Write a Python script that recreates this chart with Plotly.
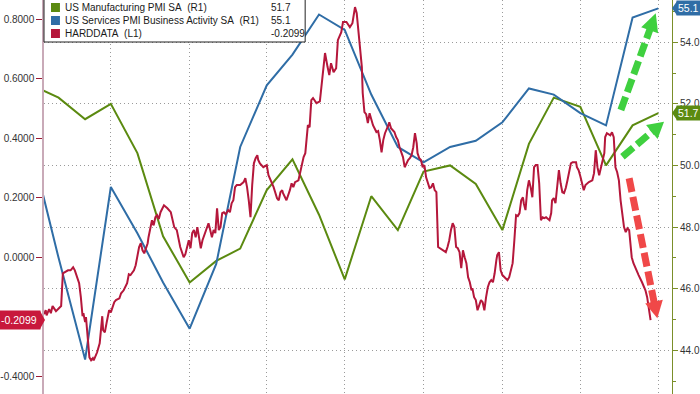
import math
import pandas as pd
import plotly.graph_objects as go

# ---------------- data ----------------
pmi_dates = ["2022-06-30", "2022-07-31", "2022-08-31", "2022-09-30", "2022-10-31", "2022-11-30",
             "2022-12-31", "2023-01-31", "2023-02-28", "2023-03-31", "2023-04-30", "2023-05-31",
             "2023-06-30", "2023-07-31", "2023-08-31", "2023-09-30", "2023-10-31", "2023-11-30",
             "2023-12-31", "2024-01-31", "2024-02-29", "2024-03-31", "2024-04-30", "2024-05-31",
             "2024-06-30"]
mfg_pmi = [52.6, 52.2, 51.5, 52.0, 50.4, 47.7, 46.2, 46.9, 47.3, 49.2, 50.2, 48.4, 46.3,
           49.0, 47.9, 49.8, 50.0, 49.4, 47.9, 50.7, 52.2, 51.9, 50.0, 51.3, 51.7]
svc_pmi = [50.5, 47.0, 43.7, 49.3, 47.8, 46.2, 44.7, 46.8, 50.6, 52.6, 53.6, 54.9, 54.4,
           52.3, 50.6, 50.1, 50.6, 50.8, 51.4, 52.5, 52.3, 51.7, 51.3, 54.8, 55.1]

# HARDDATA: observation day (days after hd_start) and value
hd_start = "2022-07-14"
hd_day = [
    0, 2, 3, 6, 8, 10, 14, 17, 20, 22,
    24, 28, 31, 34, 36, 38, 41, 43, 45, 46,
    48, 49, 51, 53, 55, 57, 58, 62, 65, 67,
    68, 69, 71, 73, 76, 78, 80, 82, 84, 88,
    90, 93, 97, 99, 101, 105, 107, 109, 111, 113,
    115, 117, 119, 121, 122, 124, 126, 128, 130, 132,
    134, 136, 140, 144, 148, 152, 155, 159, 163, 165,
    167, 169, 171, 173, 175, 177, 179, 183, 185, 188,
    190, 192, 194, 196, 198, 200, 202, 204, 206, 208,
    210, 212, 215, 217, 219, 221, 223, 225, 229, 233,
    235, 237, 239, 241, 243, 245, 247, 249, 250, 252,
    256, 260, 262, 266, 268, 272, 274, 276, 278, 279,
    283, 287, 289, 291, 293, 297, 299, 301, 303, 305,
    307, 308, 310, 312, 314, 318, 322, 325, 328, 331,
    333, 335, 338, 341, 343, 347, 349, 353, 357, 360,
    363, 365, 367, 369, 371, 372, 374, 376, 378, 380,
    382, 384, 388, 390, 392, 394, 396, 398, 402, 403,
    405, 409, 411, 413, 415, 417, 419, 421, 423, 425,
    427, 429, 431, 433, 435, 436, 438, 440, 442, 444,
    446, 448, 450, 452, 454, 456, 458, 460, 462, 465,
    469, 471, 473, 475, 477, 479, 481, 483, 485, 487,
    489, 491, 493, 495, 497, 499, 500, 502, 504, 506,
    508, 510, 512, 514, 516, 518, 520, 522, 524, 526,
    528, 529, 531, 533, 535, 539, 541, 543, 545, 547,
    549, 551, 553, 555, 557, 559, 560, 562, 564, 566,
    568, 570, 572, 574, 576, 578, 580, 582, 584, 586,
    590, 592, 593, 595, 597, 599, 601, 603, 605, 607,
    609, 611, 613, 615, 617, 621, 622, 624, 626, 628,
    630, 632, 636, 640, 642, 644, 646, 648, 650, 652,
    654, 655, 657, 661, 663, 665, 667, 669, 671, 673,
    675, 677, 679, 681, 683, 685, 686, 688, 690, 692,
    694, 698, 702, 704, 706, 708,
]
hd_val = [
    -0.190, -0.177, -0.194, -0.173, -0.187, -0.163, -0.180, -0.170, -0.163, -0.053,
    -0.049, -0.043, -0.043, -0.033, -0.043, -0.063, -0.086, -0.133, -0.197, -0.187,
    -0.217, -0.200, -0.278, -0.335, -0.345, -0.338, -0.345, -0.318, -0.288, -0.234,
    -0.197, -0.244, -0.251, -0.220, -0.177, -0.184, -0.167, -0.150, -0.143, -0.137,
    -0.120, -0.110, -0.086, -0.056, -0.059, -0.043, -0.026, 0.001, 0.035, 0.048,
    0.024, 0.014, 0.031, 0.048, 0.068, 0.102, 0.125, 0.108, 0.135, 0.142,
    0.129, 0.152, 0.175, 0.165, 0.152, 0.102, 0.092, 0.035, 0.001, 0.011,
    0.031, 0.058, 0.031, 0.082, 0.092, 0.068, 0.102, 0.031, 0.058, 0.082,
    0.102, 0.115, 0.092, 0.068, 0.092, 0.082, 0.165, 0.092, 0.102, 0.149,
    0.152, 0.145, 0.159, 0.152, 0.182, 0.192, 0.236, 0.243, 0.243, 0.253,
    0.266, 0.236, 0.192, 0.135, 0.243, 0.316, 0.333, 0.343, 0.327, 0.316,
    0.303, 0.310, 0.276, 0.253, 0.236, 0.199, 0.192, 0.219, 0.226, 0.216,
    0.192, 0.226, 0.249, 0.236, 0.253, 0.259, 0.283, 0.316, 0.337, 0.350,
    0.437, 0.444, 0.437, 0.528, 0.535, 0.518, 0.524, 0.595, 0.686, 0.639,
    0.612, 0.652, 0.622, 0.635, 0.729, 0.756, 0.790, 0.790, 0.773, 0.786,
    0.840, 0.820, 0.763, 0.706, 0.639, 0.552, 0.488, 0.481, 0.451, 0.484,
    0.461, 0.444, 0.421, 0.424, 0.394, 0.353, 0.394, 0.417, 0.444, 0.454,
    0.434, 0.421, 0.404, 0.394, 0.370, 0.353, 0.337, 0.303, 0.316, 0.327,
    0.333, 0.343, 0.370, 0.417, 0.384, 0.350, 0.333, 0.327, 0.303, 0.310,
    0.269, 0.249, 0.233, 0.236, 0.249, 0.226, 0.219, 0.035, 0.031, 0.024,
    0.018, 0.035, 0.058, 0.092, 0.115, 0.102, 0.035, 0.031, 0.018, -0.036,
    0.024, 0.001, -0.019, -0.066, -0.083, -0.110, -0.103, -0.133, -0.143, -0.177,
    -0.160, -0.143, -0.150, -0.177, -0.133, -0.100, -0.083, -0.076, -0.083, -0.053,
    -0.009, 0.008, 0.018, -0.043, -0.059, -0.069, -0.076, -0.066, -0.043, -0.019,
    0.058, 0.142, 0.139, 0.149, 0.192, 0.202, 0.182, 0.159, 0.226, 0.259,
    0.236, 0.202, 0.303, 0.310, 0.310, 0.249, 0.125, 0.135, 0.132, 0.135,
    0.125, 0.149, 0.192, 0.199, 0.182, 0.236, 0.293, 0.249, 0.219, 0.216,
    0.233, 0.259, 0.286, 0.316, 0.320, 0.320, 0.303, 0.293, 0.273, 0.243,
    0.226, 0.243, 0.253, 0.259, 0.283, 0.360, 0.303, 0.276, 0.300, 0.327,
    0.350, 0.404, 0.417, 0.410, 0.420, 0.404, 0.303, 0.286, 0.259, 0.192,
    0.135, 0.102, 0.085, 0.098, 0.092, 0.035, 0.001, -0.019, -0.033, -0.049,
    -0.059, -0.083, -0.110, -0.133, -0.167, -0.2099,
]
assert len(hd_day) == len(hd_val)

series_names = ["US Manufacturing PMI SA\u00a0\u00a0(R1)",
                "US Services PMI Business Activity SA\u00a0\u00a0(R1)",
                "HARDDATA\u00a0\u00a0(L1)"]
quarter_ends = ["2022-09-30", "2022-12-31", "2023-03-31", "2023-06-30",
                "2023-09-30", "2023-12-31", "2024-03-31", "2024-06-30"]
left_ticks = [-0.4, 0.0, 0.2, 0.4, 0.6, 0.8]
right_ticks = [44, 46, 48, 50, 52, 54]
right_minor = [43, 45, 47, 49, 51, 53, 55]

# ---------------- style ----------------
W, H = 700, 394
ML, MR, MT, MB = 43, 27, 0, 0
PW, PH = W - ML - MR, H - MT - MB
X_RANGE = ["2022-07-14", "2024-07-16"]
R_RANGE = [42.58, 55.37]
L_RANGE = [-0.458, 0.864]
GREEN = "#5b8a10"
BLUE = "#2f6da6"
RED = "#b5173b"
TAG_RED = "#c8183c"
GRID = "#9a9a9a"
OLIVE = "#7b8f2a"
FONT = "Liberation Sans"
ARROW_GREEN = "#3fd03f"
ARROW_RED = "#f04848"


def paper(px, py):
    return (px - ML) / PW, 1 - (py - MT) / PH


def py_right(v):
    return MT + (R_RANGE[1] - v) / (R_RANGE[1] - R_RANGE[0]) * PH


def py_left(v):
    return MT + (L_RANGE[1] - v) / (L_RANGE[1] - L_RANGE[0]) * PH


hd_dates = pd.Timestamp(hd_start) + pd.to_timedelta(hd_day, unit="D")

fig = go.Figure()
fig.add_trace(go.Scatter(x=pmi_dates, y=mfg_pmi, mode="lines", yaxis="y",
                         line=dict(color=GREEN, width=2), name=series_names[0]))
fig.add_trace(go.Scatter(x=pmi_dates, y=svc_pmi, mode="lines", yaxis="y",
                         line=dict(color=BLUE, width=2), name=series_names[1]))
fig.add_trace(go.Scatter(x=hd_dates, y=hd_val, mode="lines", yaxis="y2",
                         line=dict(color=RED, width=2), name=series_names[2]))

shapes = []
annotations = []

# legend box
x0, y0 = paper(43, 42)
x1, _ = paper(305, 0)
shapes.append(dict(type="rect", xref="paper", yref="paper", x0=x0, x1=x1, y0=y0, y1=1.05,
                   line=dict(color="#222222", width=1), fillcolor="white", layer="above"))
row_y = [7.5, 20.5, 33.5]
colors = [GREEN, BLUE, RED]
last_vals = [f"{mfg_pmi[-1]:.1f}", f"{svc_pmi[-1]:.1f}", f"{hd_val[-1]:.4f}"]
for i in range(3):
    sx0, sy0 = paper(50, row_y[i] - 4.5)
    sx1, sy1 = paper(59, row_y[i] + 4.5)
    shapes.append(dict(type="rect", xref="paper", yref="paper", x0=sx0, x1=sx1, y0=sy1, y1=sy0,
                       line=dict(width=0), fillcolor=colors[i], layer="above"))
    tx, ty = paper(62, row_y[i])
    annotations.append(dict(xref="paper", yref="paper", x=tx, y=ty, xanchor="left", yanchor="middle",
                            text=series_names[i], showarrow=False,
                            font=dict(family=FONT, size=10, color="#1a1a1a")))
    vx, vy = paper(269, row_y[i])
    annotations.append(dict(xref="paper", yref="paper", x=vx, y=vy, xanchor="left", yanchor="middle",
                            text=last_vals[i], showarrow=False,
                            font=dict(family=FONT, size=10, color="#1a1a1a")))


# value tags on axes
def right_tag(v, color, text):
    yc = py_right(v)
    ax, ay = paper(677, yc)
    annotations.append(dict(xref="paper", yref="paper", x=ax, y=ay, xanchor="left", yanchor="middle",
                            text=text, showarrow=False, bgcolor=color, borderpad=1,
                            font=dict(family=FONT, size=10.5, color="white")))
    a = paper(678, yc - 7)
    b = paper(673, yc)
    c = paper(678, yc + 7)
    shapes.append(dict(type="path", xref="paper", yref="paper",
                       path=f"M {a[0]},{a[1]} L {b[0]},{b[1]} L {c[0]},{c[1]} Z",
                       fillcolor=color, line=dict(width=0), layer="above"))


right_tag(svc_pmi[-1], BLUE, f"{svc_pmi[-1]:.1f}")
right_tag(mfg_pmi[-1], GREEN, f"{mfg_pmi[-1]:.1f}")

yc = py_left(hd_val[-1])
ax, ay = paper(40, yc)
annotations.append(dict(xref="paper", yref="paper", x=ax, y=ay, xanchor="right", yanchor="middle",
                        text=f"{hd_val[-1]:.4f}", showarrow=False, bgcolor=TAG_RED, borderpad=3,
                        font=dict(family=FONT, size=10.5, color="white")))
a = paper(39, yc - 9)
b = paper(44, yc)
c = paper(39, yc + 9)
shapes.append(dict(type="path", xref="paper", yref="paper",
                   path=f"M {a[0]},{a[1]} L {b[0]},{b[1]} L {c[0]},{c[1]} Z",
                   fillcolor=TAG_RED, line=dict(width=0), layer="above"))


# dashed arrows
def dashed_arrow(tail, tip, color, head_len, head_half):
    dx, dy = tip[0] - tail[0], tip[1] - tail[1]
    n = math.hypot(dx, dy)
    ux, uy = dx / n, dy / n
    bx, by = tip[0] - head_len * ux, tip[1] - head_len * uy
    px_, py_ = -uy, ux
    t0 = paper(*tail)
    t1 = paper(bx + 2 * ux, by + 2 * uy)
    shapes.append(dict(type="line", xref="paper", yref="paper", x0=t0[0], y0=t0[1], x1=t1[0], y1=t1[1],
                       line=dict(color=color, width=7, dash="14px,5px"), layer="above"))
    h0 = paper(*tip)
    h1 = paper(bx + head_half * px_, by + head_half * py_)
    h2 = paper(bx - head_half * px_, by - head_half * py_)
    shapes.append(dict(type="path", xref="paper", yref="paper",
                       path=f"M {h0[0]},{h0[1]} L {h1[0]},{h1[1]} L {h2[0]},{h2[1]} Z",
                       fillcolor=color, line=dict(width=0), layer="above"))


dashed_arrow((621.7, 110), (656.7, 13.3), ARROW_GREEN, 18, 9)
dashed_arrow((623.3, 156.7), (665, 121.7), ARROW_GREEN, 16, 9)
dashed_arrow((630, 178.3), (658.3, 318.3), ARROW_RED, 17, 9)

fig.update_layout(
    width=W, height=H,
    margin=dict(l=ML, r=MR, t=MT, b=MB, pad=0),
    paper_bgcolor="white", plot_bgcolor="white",
    showlegend=False,
    font=dict(family=FONT, size=10, color="#333333"),
    xaxis=dict(type="date", range=X_RANGE, tickvals=quarter_ends, showticklabels=False,
               showgrid=True, gridcolor=GRID, griddash="1px,3px", gridwidth=1,
               zeroline=False, showline=False, ticks=""),
    yaxis=dict(side="right", range=R_RANGE, tickvals=right_ticks,
               ticktext=[f"{v:.1f}" for v in right_ticks],
               showgrid=True, gridcolor=GRID, griddash="1px,3px", gridwidth=1,
               ticks="outside", ticklen=5, tickcolor=OLIVE, tickwidth=1,
               showline=True, linecolor=OLIVE, linewidth=1, zeroline=False,
               minor=dict(tickvals=right_minor, ticks="outside", ticklen=3, tickcolor=OLIVE, showgrid=False),
               tickfont=dict(family=FONT, size=10, color="#333333")),
    yaxis2=dict(overlaying="y", side="left", range=L_RANGE, tickvals=left_ticks,
                ticktext=[f"{v:.4f}" for v in left_ticks],
                showgrid=False, zeroline=False,
                ticks="outside", ticklen=6, tickcolor="#9b1b35", tickwidth=1,
                showline=True, linecolor="#c9aab8", linewidth=1.5,
                tickfont=dict(family=FONT, size=10, color="#333333")),
    shapes=shapes,
    annotations=annotations,
)

fig.write_html("out.html", config={"displayModeBar": False},
               post_script="document.body.style.margin='0px';document.body.style.overflow='hidden';")
